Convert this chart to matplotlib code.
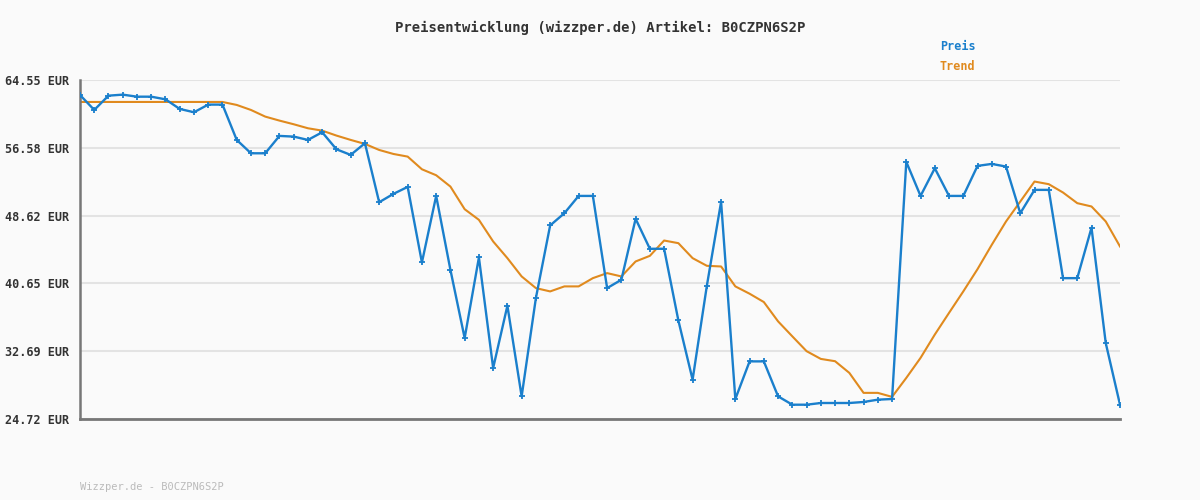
import matplotlib
matplotlib.use("Agg")
import matplotlib.pyplot as plt

preis = [62.79,61.03,62.71,62.83,62.59,62.59,62.28,61.15,60.76,61.66,61.66,57.51,55.94,55.94,57.98,57.90,57.51,58.41,56.41,55.75,57.12,50.19,51.17,51.99,43.11,50.93,42.25,34.23,43.70,30.71,38.03,27.38,38.93,47.46,48.90,50.93,50.93,40.10,41.08,48.24,44.72,44.72,36.30,29.34,40.37,50.23,27.07,31.49,31.49,27.38,26.40,26.40,26.60,26.60,26.60,26.72,26.99,27.07,54.93,50.93,54.18,50.93,50.93,54.46,54.69,54.38,48.90,51.64,51.64,41.27,41.27,47.19,33.64,26.40]
trend = [61.97]*11 + [61.62,61.03,60.25,59.78,59.35,58.88,58.6,58.02,57.51,57.04,56.33,55.86,55.55,54.06,53.36,52.03,49.37,48.12,45.58,43.62,41.47,40.10,39.71,40.30,40.30,41.27,41.86,41.47,43.23,43.89,45.69,45.38,43.62,42.72,42.64,40.30,39.44,38.46,36.19,34.43,32.69,31.78,31.51,30.14,27.79,27.79,27.32,29.55,31.90,34.64,37.19,39.71,42.33,45.19,47.93,50.27,52.62,52.31,51.33,50.08,49.69,47.93,44.99]
yticks = [24.72,32.69,40.65,48.62,56.58,64.55]
x = list(range(len(preis)))

plt.rcParams['font.family'] = ['DejaVu Sans Mono']
fig = plt.figure(figsize=(12,5), dpi=100, facecolor='#fafafa')
ax = fig.add_axes([80/1200, 81/500, 1040/1200, 339/500])
ax.set_facecolor('#fafafa')
ax.plot(x, trend, color='#e08a1e', lw=1.5, zorder=2)
ax.plot(x, preis, color='#1a7fcc', lw=1.7, marker='+', ms=4, mew=1.3, zorder=3)
ax.set_xlim(0, len(preis)-1)
ax.set_ylim(24.72, 64.55)
ax.set_yticks(yticks)
ax.set_yticklabels([f"{v:.2f} EUR" for v in yticks], fontsize=8.5, color='#333333', fontweight='bold')
ax.set_xticks([])
ax.tick_params(axis='y', length=0, pad=8)
ax.grid(axis='y', color='#e3e3e3', lw=1.5)
for s in ['top','right']:
    ax.spines[s].set_visible(False)
ax.spines['left'].set_color('#777777')
ax.spines['left'].set_linewidth(1.8)
ax.spines['bottom'].set_color('#777777')
ax.spines['bottom'].set_linewidth(2)
fig.text(0.5, 1-28/500, "Preisentwicklung (wizzper.de) Artikel: B0CZPN6S2P", ha='center', va='center', fontsize=10, color='#333333', fontweight='bold')
fig.text(940/1200, 1-47/500, "Preis", color='#1a7fcc', fontsize=8.5, fontweight='bold', va='center')
fig.text(940/1200, 1-67/500, "Trend", color='#e08a1e', fontsize=8.5, fontweight='bold', va='center')
fig.text(80/1200, 1-487/500, "Wizzper.de - B0CZPN6S2P", color='#bbbbbb', fontsize=7.5, va='center')
fig.savefig("out.png", dpi=100, facecolor='#fafafa')
